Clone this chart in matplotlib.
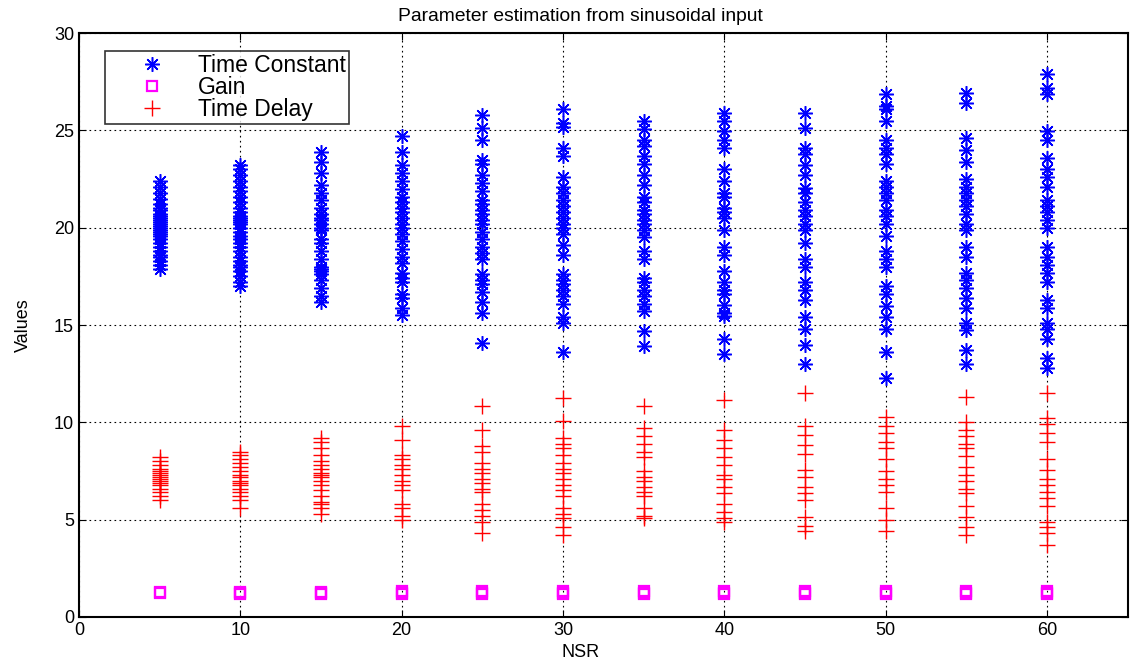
import matplotlib
matplotlib.use("Agg")
import matplotlib.pyplot as plt

plt.rcParams['font.family'] = ['Liberation Sans', 'DejaVu Sans']

nsr = [5, 10, 15, 20, 25, 30, 35, 40, 45, 50, 55, 60]

# time constant estimates, one list per NSR level
time_constant = [
    [22.4, 22.1, 21.8, 21.5, 21.2, 21.0, 20.9, 20.7, 20.6, 20.5, 20.4, 20.3, 20.2, 20.1,
     20.0, 19.9, 19.8, 19.7, 19.6, 19.4, 19.2, 19.0, 18.8, 18.6, 18.5, 18.3, 18.1, 17.9],
    [23.2, 23.0, 22.7, 22.4, 22.1, 21.9, 21.6, 21.3, 21.0, 20.8, 20.6, 20.5, 20.4, 20.3,
     20.2, 20.0, 19.8, 19.6, 19.4, 19.2, 19.0, 18.8, 18.5, 18.3, 18.1, 18.0, 17.8, 17.5,
     17.2, 17.0],
    [23.9, 23.4, 22.8, 22.2, 21.8, 21.4, 21.0, 20.7, 20.5, 20.4, 20.2, 20.0, 19.9, 19.4,
     19.2, 18.8, 18.4, 18.0, 17.9, 17.8, 17.6, 17.3, 16.9, 16.5, 16.2],
    [24.7, 23.9, 23.2, 22.8, 22.4, 22.0, 21.6, 21.3, 21.0, 20.8, 20.5, 20.2, 20.0, 19.7,
     19.3, 18.9, 18.5, 18.2, 17.7, 17.4, 17.2, 16.6, 16.4, 15.9, 15.5],
    [25.8, 25.1, 24.5, 23.5, 23.3, 22.7, 22.3, 21.9, 21.4, 21.2, 20.9, 20.7, 20.4, 20.2,
     19.8, 19.4, 19.0, 18.7, 18.4, 17.6, 17.3, 17.1, 16.7, 16.2, 15.6, 14.1],
    [26.1, 25.4, 25.2, 24.1, 23.7, 22.6, 22.1, 21.8, 21.4, 21.1, 20.8, 20.5, 20.2, 20.0,
     19.7, 19.1, 18.6, 17.6, 17.3, 17.1, 16.8, 16.5, 16.1, 15.4, 15.1, 13.6],
    [25.5, 25.05, 24.5, 24.2, 23.7, 23.25, 22.7, 22.2, 21.6, 21.3, 20.9, 20.7, 20.4, 20.2,
     19.9, 19.5, 18.8, 18.4, 17.4, 17.2, 16.8, 16.5, 16.1, 15.7, 14.7, 13.9],
    [25.9, 25.5, 24.97, 24.5, 24.1, 23.0, 22.4, 21.8, 21.6, 21.0, 20.8, 20.5, 19.9, 19.0,
     18.6, 17.8, 17.2, 16.8, 16.6, 16.05, 15.6, 15.45, 14.3, 13.5],
    [25.9, 25.1, 24.1, 23.8, 23.2, 22.7, 22.05, 21.8, 21.3, 20.9, 20.6, 20.2, 19.9, 19.2,
     18.4, 18.0, 17.2, 16.8, 16.3, 15.4, 14.8, 14.0, 13.0],
    [26.85, 26.25, 26.1, 25.5, 24.5, 24.1, 23.8, 23.3, 22.4, 22.1, 21.8, 21.4, 20.9, 20.6,
     20.2, 19.6, 18.8, 18.4, 18.0, 17.0, 16.6, 16.0, 15.4, 14.8, 13.6, 12.3],
    [26.9, 26.4, 24.6, 24.0, 23.4, 22.5, 22.1, 21.8, 21.4, 21.1, 20.7, 20.2, 19.9, 19.0,
     18.5, 17.7, 17.3, 16.9, 16.4, 15.9, 15.1, 14.75, 13.7, 13.0],
    [27.9, 27.2, 26.85, 24.97, 24.5, 23.6, 23.0, 22.6, 22.1, 21.45, 21.1, 20.8, 20.4, 20.0,
     19.0, 18.5, 18.1, 17.7, 17.2, 16.3, 15.9, 15.1, 14.8, 14.3, 13.3, 12.8],
]

# gain estimates
gain = [
    [1.22, 1.27],
    [1.20, 1.25, 1.30],
    [1.20, 1.25, 1.30],
    [1.19, 1.25, 1.31],
    [1.20, 1.25, 1.31],
    [1.19, 1.25, 1.31],
    [1.19, 1.25, 1.32],
    [1.18, 1.25, 1.33],
    [1.18, 1.25, 1.32],
    [1.17, 1.25, 1.33],
    [1.18, 1.25, 1.33],
    [1.17, 1.25, 1.33],
]

# time delay estimates
time_delay = [
    [8.2, 8.0, 7.8, 7.6, 7.5, 7.4, 7.3, 7.2, 7.1, 7.0, 6.9, 6.8, 6.6, 6.4, 6.2, 6.0],
    [8.5, 8.3, 8.1, 7.9, 7.7, 7.5, 7.3, 7.2, 7.0, 6.9, 6.8, 6.6, 6.4, 6.2, 6.0, 5.6],
    [9.2, 9.0, 8.7, 8.3, 8.0, 7.8, 7.6, 7.4, 7.3, 7.2, 7.0, 6.8, 6.5, 6.2, 5.9, 5.8, 5.6, 5.3],
    [9.8, 9.1, 8.3, 8.1, 7.8, 7.6, 7.3, 7.0, 6.8, 6.5, 5.8, 5.6, 5.2, 5.0],
    [10.85, 9.6, 8.8, 8.5, 7.9, 7.6, 7.4, 7.1, 6.9, 6.6, 6.4, 5.8, 5.5, 5.2, 4.9, 4.3],
    [11.25, 10.05, 9.2, 8.9, 8.7, 8.3, 7.9, 7.6, 7.4, 7.1, 6.8, 6.5, 6.2, 5.6, 5.3, 5.1, 4.6, 4.2],
    [10.85, 9.7, 9.3, 8.9, 8.5, 8.2, 7.5, 7.2, 7.0, 6.7, 6.4, 6.2, 5.6, 5.2, 5.1],
    [11.15, 9.6, 9.1, 8.7, 8.2, 7.8, 7.3, 7.1, 6.7, 6.35, 5.8, 5.4, 5.1, 4.9],
    [11.5, 9.8, 9.35, 8.85, 8.4, 7.55, 7.2, 6.7, 6.35, 6.0, 5.15, 4.7, 4.4],
    [10.3, 9.8, 9.45, 9.0, 8.7, 8.1, 7.5, 7.1, 6.8, 6.4, 5.6, 5.0, 4.4],
    [11.3, 10.0, 9.6, 9.3, 8.9, 8.7, 8.25, 7.7, 7.3, 7.0, 6.6, 6.35, 5.7, 5.15, 4.6, 4.2],
    [11.5, 10.2, 9.9, 9.45, 9.0, 8.1, 7.55, 7.1, 6.8, 6.4, 6.1, 5.7, 4.9, 4.6, 4.3, 3.7],
]


def flatten(xs, groups):
    px, py = [], []
    for x, vals in zip(xs, groups):
        px += [x] * len(vals)
        py += vals
    return px, py


fig = plt.figure(figsize=(11.31, 6.65), dpi=100)
ax = fig.add_axes([0.0698, 0.0722, 0.9272, 0.878])

asterisk = (8, 2, 0)  # 8-spoke line asterisk like MATLAB's '*'

x, y = flatten(nsr, time_constant)
ax.plot(x, y, marker=asterisk, color='blue', markersize=10.5, markeredgewidth=1.1,
        linestyle='none', label='Time Constant')
x, y = flatten(nsr, gain)
ax.plot(x, y, 's', color='magenta', markerfacecolor='none', markersize=6.5, markeredgewidth=1.6,
        linestyle='none', label='Gain')
x, y = flatten(nsr, time_delay)
ax.plot(x, y, '+', color='red', markersize=11, markeredgewidth=1.0, linestyle='none',
        label='Time Delay')

ax.set_xlim(0, 65)
ax.set_ylim(0, 30)
ax.set_xticks(range(0, 61, 10))
ax.set_yticks(range(0, 31, 5))
ax.grid(True, color='black', linestyle=(0, (1.5, 3)), linewidth=0.8)
ax.tick_params(direction='in', labelsize=13, length=5, top=True, right=True)
for s in ax.spines.values():
    s.set_linewidth(1.5)

ax.set_title('Parameter estimation from sinusoidal input', fontsize=13.9, pad=9, x=0.478)
ax.set_xlabel('NSR', fontsize=13, labelpad=4, x=0.478)
ax.set_ylabel('Values', fontsize=13, labelpad=16)

leg = ax.legend(loc='upper left', bbox_to_anchor=(0.025, 0.97), fontsize=16.5, frameon=True,
                fancybox=False, edgecolor='black', handlelength=3.8, handletextpad=0.1,
                borderpad=0.15, labelspacing=-0.05, borderaxespad=0)
leg.get_frame().set_linewidth(1.2)

fig.savefig('out.png', dpi=100)
